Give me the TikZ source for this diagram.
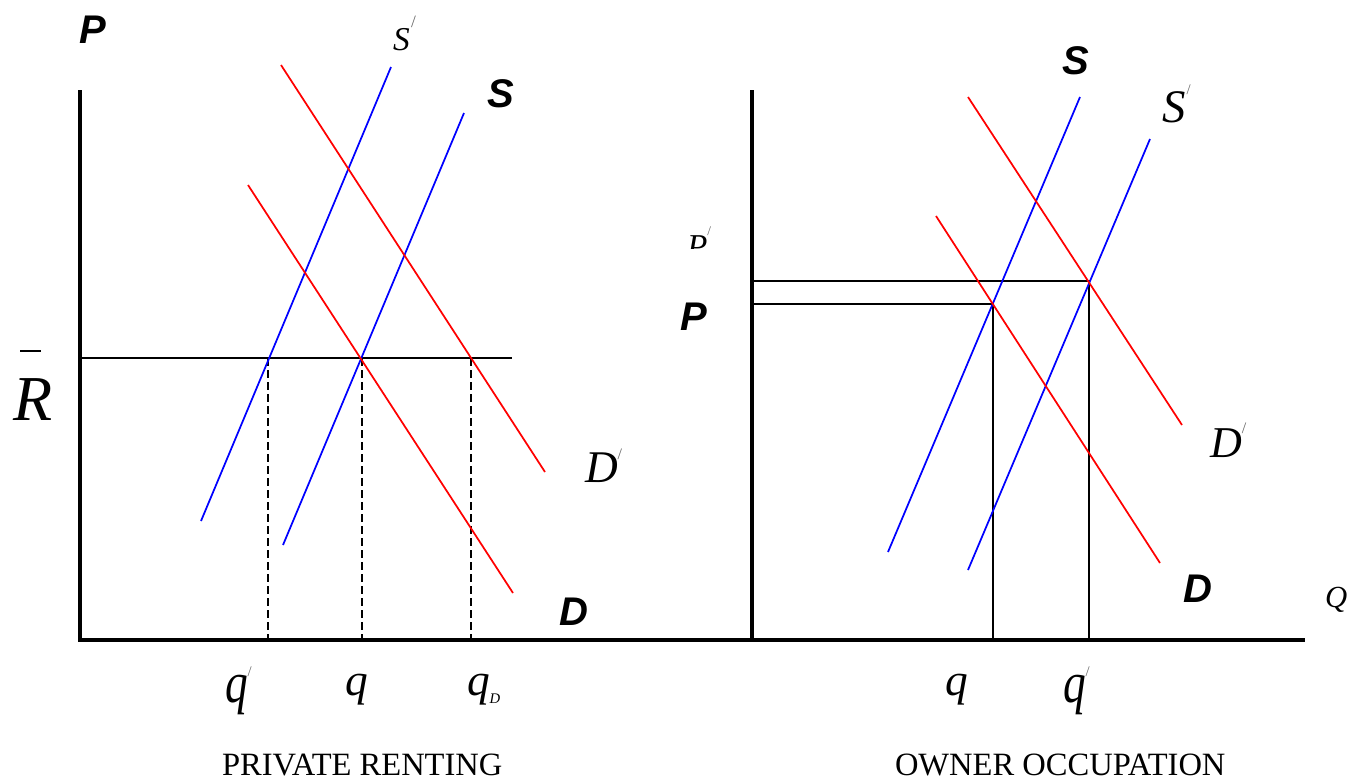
\documentclass[tikz,border=0pt]{standalone}
\usepackage{fontspec}
\setmainfont{Liberation Serif}
\setsansfont{Liberation Sans}
\newcommand\myprime[3]{\kern#3\raisebox{#2}{\fontsize{#1}{#1}\selectfont\upshape\color{black!60}/}}
\begin{document}
\begin{tikzpicture}[x=0.75pt,y=-0.75pt,
  axisline/.style={line width=2.8pt},
  guide/.style={line width=1.4pt},
  dguide/.style={line width=1.1pt, dash pattern=on 6pt off 3pt},
  sup/.style={blue, line width=1.3pt},
  dem/.style={red, line width=1.3pt},
  lbl/.style={anchor=base west, inner sep=0pt, outer sep=0pt},
  boldlbl/.style={lbl, font=\sffamily\bfseries\itshape\fontsize{30}{30}\selectfont},
  itlbl/.style={lbl, font=\itshape},
  caption/.style={lbl, font=\fontsize{24.4}{24.4}\selectfont}]
\useasboundingbox (0,0) rectangle (1364,782);

% ---------- left panel ----------
\coordinate (Ltop) at (80,90);
\coordinate (O) at (80,640);
\coordinate (Xend) at (1305,640);
\coordinate (Rtop) at (752,90);
\coordinate (Rbot) at (752,640);

% horizontal R-bar line
\coordinate (Rb0) at (80,358);
\coordinate (Rb1) at (512,358);
\draw[guide] (Rb0) -- (Rb1);

% dashed verticals
\coordinate (a1) at (268,358); \coordinate (a0) at (268,640);
\coordinate (b1) at (362,358); \coordinate (b0) at (362,640);
\coordinate (c1) at (471,358); \coordinate (c0) at (471,640);
\draw[dguide] (a1) -- (a0);
\draw[dguide] (b1) -- (b0);
\draw[dguide] (c1) -- (c0);

% supply / demand
\coordinate (Sp0) at (201,521); \coordinate (Sp1) at (391,67);
\coordinate (S0) at (283,545); \coordinate (S1) at (464,113);
\coordinate (Dp0) at (281,65); \coordinate (Dp1) at (545,472);
\coordinate (D0) at (248,185); \coordinate (D1) at (513,593);
\draw[sup] (Sp0) -- (Sp1);
\draw[sup] (S0) -- (S1);
\draw[dem] (Dp0) -- (Dp1);
\draw[dem] (D0) -- (D1);

% ---------- right panel ----------
\coordinate (rS0) at (888,552); \coordinate (rS1) at (1080,97);
\coordinate (rSp0) at (968,570); \coordinate (rSp1) at (1150,139);
\coordinate (rDp0) at (968,97); \coordinate (rDp1) at (1182,425);
\coordinate (rD0) at (936,216); \coordinate (rD1) at (1160,563);

\coordinate (h1a) at (752,281); \coordinate (h1b) at (1089,281);
\coordinate (h2a) at (752,304); \coordinate (h2b) at (993,304);
\coordinate (v1b) at (993,640); \coordinate (v2b) at (1089,640);
\draw[guide] (h1a) -- (h1b) -- (v2b);
\draw[guide] (h2a) -- (h2b) -- (v1b);

\draw[sup] (rS0) -- (rS1);
\draw[sup] (rSp0) -- (rSp1);
\draw[dem] (rDp0) -- (rDp1);
\draw[dem] (rD0) -- (rD1);

% axes
\draw[axisline] (Ltop) -- (O) -- (Xend);
\draw[axisline] (Rtop) -- (Rbot);

% ---------- labels left ----------
\node[boldlbl] (lP) at (79,43) {P};
\node[itlbl, font=\itshape\fontsize{25}{25}\selectfont] (lSp) at (393,50) {S\myprime{13}{17pt}{1pt}};
\node[boldlbl] (lS) at (487,107) {S};
\node[itlbl, font=\itshape\fontsize{48}{48}\selectfont] (lR) at (13,420) {R};
\draw[line width=1pt] (20,351) -- (41,351);
\node[itlbl, font=\itshape\fontsize{34}{34}\selectfont] (lDp) at (585,482) {D\myprime{12}{17pt}{0pt}};
\node[boldlbl] (lD) at (559,625) {D};
\node[itlbl, font=\itshape\fontsize{34}{34}\selectfont] (lqp) at (225,702) {\scalebox{1}[1.28]{q}\myprime{11}{19pt}{0pt}};
\node[itlbl, font=\itshape\fontsize{34}{34}\selectfont] (lq) at (345,695) {q};
\node[itlbl, font=\itshape\fontsize{34}{34}\selectfont] (lqD) at (467,695) {q\raisebox{-6pt}{\fontsize{11}{11}\selectfont D}};
\node[caption] (capL) at (222,775) {PRIVATE RENTING};

% ---------- labels right ----------
\node[boldlbl] (rS) at (1062,74) {S};
\node[itlbl, font=\itshape\fontsize{35}{35}\selectfont] (rSp) at (1162,122) {S\myprime{11}{21pt}{1pt}};
\begin{scope}
  \clip (660,200) rectangle (760,248);
  \node[itlbl, font=\itshape\fontsize{25}{25}\selectfont] (rPp) at (687,257) {P\myprime{10}{16pt}{0pt}};
\end{scope}
\node[boldlbl] (rP) at (680,330) {P};
\node[itlbl, font=\itshape\fontsize{33}{33}\selectfont] (rDp) at (1210,457) {D\myprime{12}{18pt}{0pt}};
\node[boldlbl] (rD) at (1183,602) {D};
\node[itlbl, font=\itshape\fontsize{23}{23}\selectfont] (rQ) at (1325,607) {Q};
\node[itlbl, font=\itshape\fontsize{34}{34}\selectfont] (rq) at (945,695) {q};
\node[itlbl, font=\itshape\fontsize{34}{34}\selectfont] (rqp) at (1063,702) {\scalebox{1}[1.28]{q}\myprime{11}{19pt}{0pt}};
\node[caption] (capR) at (895,775) {OWNER OCCUPATION};
\end{tikzpicture}
\end{document}
